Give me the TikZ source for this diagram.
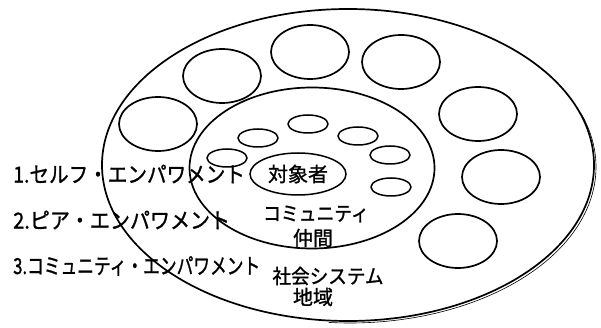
\documentclass[tikz,border=0pt]{standalone}
\usepackage{fontspec}
\usepackage{graphicx}
\newfontfamily\jpfont[FakeBold=1.2]{Noto Sans CJK JP}
\usetikzlibrary{shapes.geometric, calc}

\begin{document}
\begin{tikzpicture}[x=1pt, y=-1pt,
    field/.style={ellipse, draw=black, line width=1.7pt, inner sep=0pt},
    group/.style={ellipse, draw=black, line width=1.7pt, minimum width=78pt, minimum height=54pt, inner sep=0pt},
    peer/.style={ellipse, draw=black, line width=1.5pt, minimum width=40pt, minimum height=18pt, inner sep=0pt},
    self/.style={ellipse, draw=black, line width=1.5pt, minimum width=96pt, minimum height=42pt, inner sep=0pt, font=\jpfont\fontsize{20}{22}\selectfont},
    level/.style={anchor=west, inner sep=0pt, font=\jpfont\fontsize{22}{24}\selectfont},
    tag/.style={inner sep=0pt, font=\jpfont\fontsize{20}{22}\selectfont},
    shadowline/.style={draw=black, line width=0.6pt}
]
\useasboundingbox (0,0) rectangle (601,328);

% Society and community fields
\node[field, minimum width=492pt, minimum height=312pt] (society) at (348,165) {};
\node[field, minimum width=245pt, minimum height=161pt] (community) at (312,168) {};
\draw[shadowline] ($(society.center)+(2,2)+(-20:246 and 156)$) arc[start angle=-20, end angle=95, x radius=246, y radius=156];

% Groups in the society
\node[group] (group1) at (158,124) {};
\node[group] (group2) at (222,76) {};
\node[group] (group3) at (310,52) {};
\node[group] (group4) at (401,62) {};
\node[group] (group5) at (478,114) {};
\node[group] (group6) at (501,177) {};
\node[group] (group7) at (458,241) {};

% Peers in the community
\node[peer] (peer1) at (227,158) {};
\node[peer] (peer2) at (258,138) {};
\node[peer] (peer3) at (308,124) {};
\node[peer] (peer4) at (358,136) {};
\node[peer] (peer5) at (390,155) {};
\node[peer] (peer6) at (391,187) {};

% Target person
\node[self] (target) at (298,174) {対象者};

% Field labels
\node[tag] (peerlbl) at (316,214) {\scalebox{0.89}[1]{コミュニティ}};
\node[tag] (peerlbl2) at (313,238) {仲間};
\node[tag] (sociallbl) at (328,276) {\scalebox{0.93}[1]{社会システム}};
\node[tag] (sociallbl2) at (313,297) {地域};

% Levels
\node[level] (level1) at (13,174) {\scalebox{0.89}[1]{1.セルフ・エンパワメント}};
\node[level] (level2) at (13,220) {\scalebox{0.91}[1]{2.ピア・エンパワメント}};
\node[level] (level3) at (13,266) {\scalebox{0.76}[1]{3.コミュニティ・エンパワメント}};

\end{tikzpicture}
\end{document}
